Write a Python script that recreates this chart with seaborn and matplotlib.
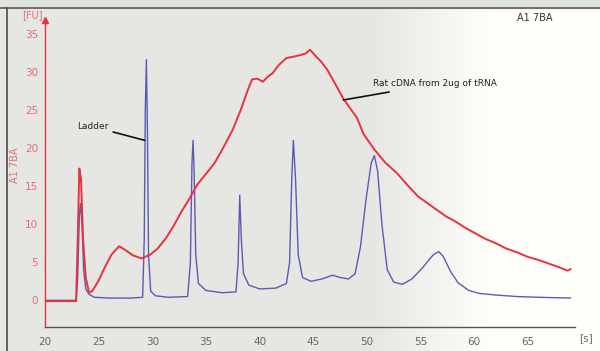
import numpy as np
import matplotlib
matplotlib.use("Agg")
import matplotlib.pyplot as plt
import seaborn as sns

# ladder trace (blue)
ladder_time = [20.0, 22.9, 23.05, 23.2, 23.3, 23.45, 23.6, 23.8, 24.1, 24.6, 26.0, 28.0,
               29.1, 29.25, 29.35, 29.45, 29.55, 29.65, 29.85, 30.3, 31.5, 33.3,
               33.55, 33.7, 33.8, 33.9, 34.05, 34.3, 35.0, 36.5, 37.8,
               38.0, 38.15, 38.3, 38.5, 39.0, 40.0, 41.5, 42.5,
               42.8, 43.0, 43.15, 43.35, 43.6, 44.0, 44.8, 45.8, 46.8, 47.5, 48.3,
               48.9, 49.4, 49.9, 50.4, 50.7, 51.0, 51.4, 51.9, 52.5, 53.3,
               54.2, 55.2, 56.2, 56.7, 57.1, 57.8, 58.5, 59.5, 60.5, 62.0, 64.0, 66.0, 69.0]
ladder_fu = [0.0, 0.0, 3.0, 11.0, 12.7, 10.0, 4.0, 1.5, 0.8, 0.4, 0.3, 0.3,
             0.4, 8.0, 25.0, 31.6, 22.0, 6.0, 1.2, 0.6, 0.4, 0.5,
             5.0, 18.0, 21.0, 17.0, 6.0, 2.2, 1.3, 1.0, 1.1,
             5.0, 13.8, 8.0, 3.5, 2.0, 1.5, 1.6, 2.2,
             5.0, 16.0, 21.0, 16.0, 6.0, 3.0, 2.5, 2.8, 3.3, 3.0, 2.8,
             3.5, 7.0, 13.0, 18.0, 19.0, 17.0, 10.0, 4.0, 2.4, 2.1,
             2.8, 4.3, 6.0, 6.4, 5.8, 3.8, 2.3, 1.3, 0.9, 0.7, 0.5, 0.4, 0.3]

# rat cDNA sample trace (red)
sample_time = [20.0, 22.9, 23.05, 23.2, 23.35, 23.55, 23.8, 24.1, 24.4, 25.0, 25.6, 26.2,
               26.9, 27.5, 28.2, 29.0, 29.8, 30.5, 31.3, 32.0, 32.7, 33.4, 34.2,
               35.0, 35.8, 36.6, 37.5, 38.3, 38.9, 39.3, 39.8, 40.3, 40.8, 41.2,
               41.8, 42.5, 43.2, 43.8, 44.3, 44.7, 45.2, 45.7, 46.3, 46.9, 47.4,
               47.8, 48.4, 49.1, 49.7, 50.7, 51.7, 52.8, 53.8, 54.8, 55.8, 56.6,
               57.4, 58.2, 59.2, 60.1, 61.0, 62.0, 63.0, 64.0, 65.0, 66.0, 67.0,
               68.0, 68.7, 69.0]
sample_fu = [-0.1, -0.1, 8.0, 17.3, 16.0, 8.0, 3.0, 1.0, 1.2, 2.6, 4.4, 6.0,
             7.1, 6.6, 5.9, 5.5, 6.0, 6.8, 8.2, 9.8, 11.6, 13.2, 15.2,
             16.6, 18.0, 20.0, 22.4, 25.2, 27.6, 29.0, 29.1, 28.7, 29.4, 29.8,
             30.9, 31.8, 32.0, 32.2, 32.4, 32.9, 32.1, 31.4, 30.3, 28.8, 27.5,
             26.5, 25.3, 23.9, 21.8, 19.8, 18.1, 16.7, 15.1, 13.6, 12.6, 11.8,
             11.0, 10.4, 9.5, 8.8, 8.1, 7.5, 6.8, 6.3, 5.7, 5.3, 4.8,
             4.3, 3.9, 4.1]

x_ticks = [20, 25, 30, 35, 40, 45, 50, 55, 60, 65]
y_ticks = [0, 5, 10, 15, 20, 25, 30, 35]

RED = "#e8323c"
BLUE = "#5a5cb4"

sns.set_style("white")
plt.rcParams["font.family"] = ["DejaVu Sans"]

fig = plt.figure(figsize=(6.0, 3.51), dpi=100)

# background: light grey fading to white on the right, frame lines top/left
bg = fig.add_axes([0, 0, 1, 1])
grad = np.clip((np.linspace(0, 1, 600) - 0.62) / 0.2, 0, 1)
shade = 0.905 + (1.0 - 0.905) * grad
img = np.dstack([shade, shade * 0.998, shade * 0.985]).repeat(2, axis=0)
bg.imshow(img, aspect="auto", extent=[0, 1, 0, 1])
bg.axhspan(1 - 8 / 351, 1, color="#dfe5dc")
bg.axhline(1 - 8 / 351, color="#5a5a5a", lw=1.2)
bg.axvline(7 / 600, ymax=1 - 8 / 351, color="#4a4a4a", lw=1.2)
bg.set_xlim(0, 1)
bg.set_ylim(0, 1)
bg.axis("off")

ax = fig.add_axes([45 / 600, 24 / 351, 530 / 600, 307 / 351])
ax.patch.set_alpha(0)

#  ladder first so the red sample trace sits on top of the shared baseline
sns.lineplot(x=ladder_time, y=ladder_fu, ax=ax, color=BLUE, lw=1.0, estimator=None)
sns.lineplot(x=sample_time, y=sample_fu, ax=ax, color=RED, lw=1.4, estimator=None)

ax.set_xlim(20, 69.4)
ax.set_ylim(-3.5, 36.8)
ax.set_xticks(x_ticks)
ax.set_yticks(y_ticks)
ax.tick_params(axis="x", direction="out", length=5, width=1, color="#555555",
               labelsize=7.5, labelcolor="#666666", pad=2)
ax.tick_params(axis="y", direction="out", length=4, width=1, color=RED,
               labelsize=7.5, labelcolor="#e07070", pad=1)
for s in ["top", "right"]:
    ax.spines[s].set_visible(False)
ax.spines["left"].set_color(RED)
ax.spines["left"].set_linewidth(1.0)
ax.spines["bottom"].set_color("#555555")
ax.spines["bottom"].set_linewidth(1.0)
ax.plot(0, 1, marker="^", color=RED, ms=5, transform=ax.transAxes, clip_on=False)
ax.set_xlabel("")
ax.set_ylabel("")

# annotations
ax.annotate("Ladder", xy=(29.3, 21.0), xytext=(23.0, 22.8), fontsize=6.5, color="#222222",
            va="center", arrowprops=dict(arrowstyle="-", color="#111111", lw=1.2,
                                         shrinkA=1, shrinkB=0))
ax.annotate("Rat cDNA from 2ug of tRNA", xy=(47.8, 26.3), xytext=(50.6, 28.4), fontsize=6.5,
            color="#222222", va="center",
            arrowprops=dict(arrowstyle="-", color="#111111", lw=1.2, shrinkA=1, shrinkB=0))

fig.text(22 / 600, 1 - 15 / 351, "[FU]", color="#e07070", fontsize=7, va="center")
fig.text(15 / 600, 1 - 165 / 351, "A1 7BA", color="#e07070", fontsize=7, rotation=90,
         va="center", ha="center")
fig.text(535 / 600, 1 - 18 / 351, "A1 7BA", color="#333333", fontsize=7, va="center",
         ha="center")
fig.text(586 / 600, 1 - 338 / 351, "[s]", color="#666666", fontsize=7.5, va="center",
         ha="center")

fig.savefig("out.png", dpi=100)
